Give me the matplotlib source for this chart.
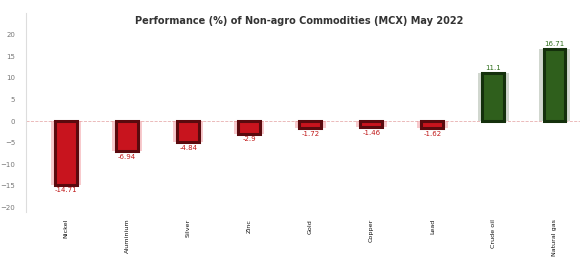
import matplotlib.pyplot as plt

# commodities and May 2022 returns (%)
commodities = ["Nickel", "Aluminium", "Silver", "Zinc", "Gold", "Copper", "Lead", "Crude oil", "Natural gas"]
returns = [-14.71, -6.94, -4.84, -2.9, -1.72, -1.46, -1.62, 11.1, 16.71]
labels = ["-14.71", "-6.94", "-4.84", "-2.9", "-1.72", "-1.46", "-1.62", "11.1", "16.71"]

fig = plt.figure(figsize=(5.86, 2.63), dpi=100)
ax = fig.add_axes([0.045, 0.195, 0.945, 0.755])

x = range(len(commodities))
face = ["#c8141e" if v < 0 else "#2f5f1c" for v in returns]
edge = ["#5a0a0e" if v < 0 else "#14300c" for v in returns]
glow = ["#f08a90" if v < 0 else "#9aa896" for v in returns]

# soft glow behind the bars
ax.bar(x, returns, width=0.5, color=glow, alpha=0.45, zorder=1)
ax.bar(x, returns, width=0.36, color=face, edgecolor=edge, linewidth=2.2, zorder=2)

for i, v in enumerate(returns):
    if v < 0:
        ax.text(i, v - 0.6, labels[i], ha="center", va="top", fontsize=5, color="#c01818")
    else:
        ax.text(i, v + 0.5, labels[i], ha="center", va="bottom", fontsize=5, color="#2f6f1c")

ax.axhline(0, color="#e8b0b0", linewidth=0.6, linestyle="--", zorder=0)

ax.set_ylim(-21, 25)
ax.set_yticks(range(-20, 25, 5))
ax.set_xlim(-0.65, 8.42)
ax.set_xticks(list(x))
ax.set_xticklabels(commodities, rotation=90, fontsize=4.6, color="#111111")
ax.tick_params(axis="y", labelsize=5, labelcolor="#777777", length=0, pad=8)
ax.tick_params(axis="x", length=0, pad=5)
for s in ["top", "right", "bottom"]:
    ax.spines[s].set_visible(False)
ax.spines["left"].set_color("#dddddd")

fig.text(0.51, 0.92, "Performance (%) of Non-agro Commodities (MCX) May 2022",
         ha="center", va="center", fontsize=7, fontweight="bold", color="#333333")

plt.savefig("out.png", dpi=100)
